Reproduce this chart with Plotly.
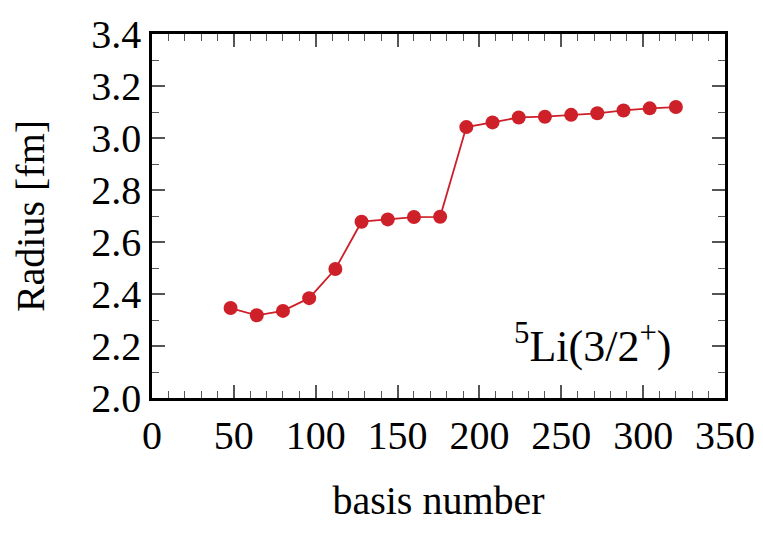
import plotly.graph_objects as go

# basis number vs. radius of 5Li(3/2+)
basis_number = [48, 64, 80, 96, 112, 128, 144, 160, 176, 192, 208, 224, 240, 256, 272, 288, 304, 320]
radius_fm = [2.346, 2.318, 2.335, 2.384, 2.496, 2.678, 2.687, 2.696, 2.697, 3.042, 3.060, 3.079,
             3.082, 3.089, 3.095, 3.106, 3.114, 3.119]

red = 'rgb(206, 32, 41)'
font_family = 'Liberation Serif, Times New Roman, serif'

fig = go.Figure()

fig.add_trace(go.Scatter(
    x=basis_number,
    y=radius_fm,
    mode='lines+markers',
    line=dict(color=red, width=1.8),
    marker=dict(color=red, size=14),
    showlegend=False
))

axis_common = dict(
    showgrid=False,
    zeroline=False,
    showline=True,
    linecolor='black',
    linewidth=2.5,
    mirror='allticks',
    ticks='inside',
    tickcolor='#555',
    tickwidth=1.5,
    ticklen=13,
    automargin=False,
    tickfont=dict(family=font_family, size=40, color='black'),
)

fig.update_xaxes(
    range=[0, 350],
    dtick=50,
    tick0=0,
    minor=dict(ticks='inside', dtick=10, ticklen=7, tickcolor='#555', tickwidth=1.3),
    title=dict(text='basis number', font=dict(family=font_family, size=40, color='black'), standoff=30),
    **axis_common
)
fig.update_yaxes(
    range=[2.0, 3.4],
    dtick=0.2,
    tick0=2.0,
    tickformat='.1f',
    minor=dict(ticks='inside', dtick=0.1, ticklen=7, tickcolor='#555', tickwidth=1.3),
    title=dict(text='Radius [fm]', font=dict(family=font_family, size=40, color='black'), standoff=38),
    **axis_common
)

fig.add_annotation(
    x=0.909, y=0.069, xref='paper', yref='paper',
    xanchor='right', yanchor='bottom',
    text='<sup>5</sup>Li(3/2<sup>+</sup>)',
    showarrow=False,
    font=dict(family=font_family, size=44, color='black')
)

# page body adds an 8px offset, so the figure is a bit smaller than the window
fig.update_layout(
    width=755,
    height=526,
    margin=dict(l=144, r=38, t=26, b=136),
    plot_bgcolor='white',
    paper_bgcolor='white',
)

fig.write_html("out.html")
